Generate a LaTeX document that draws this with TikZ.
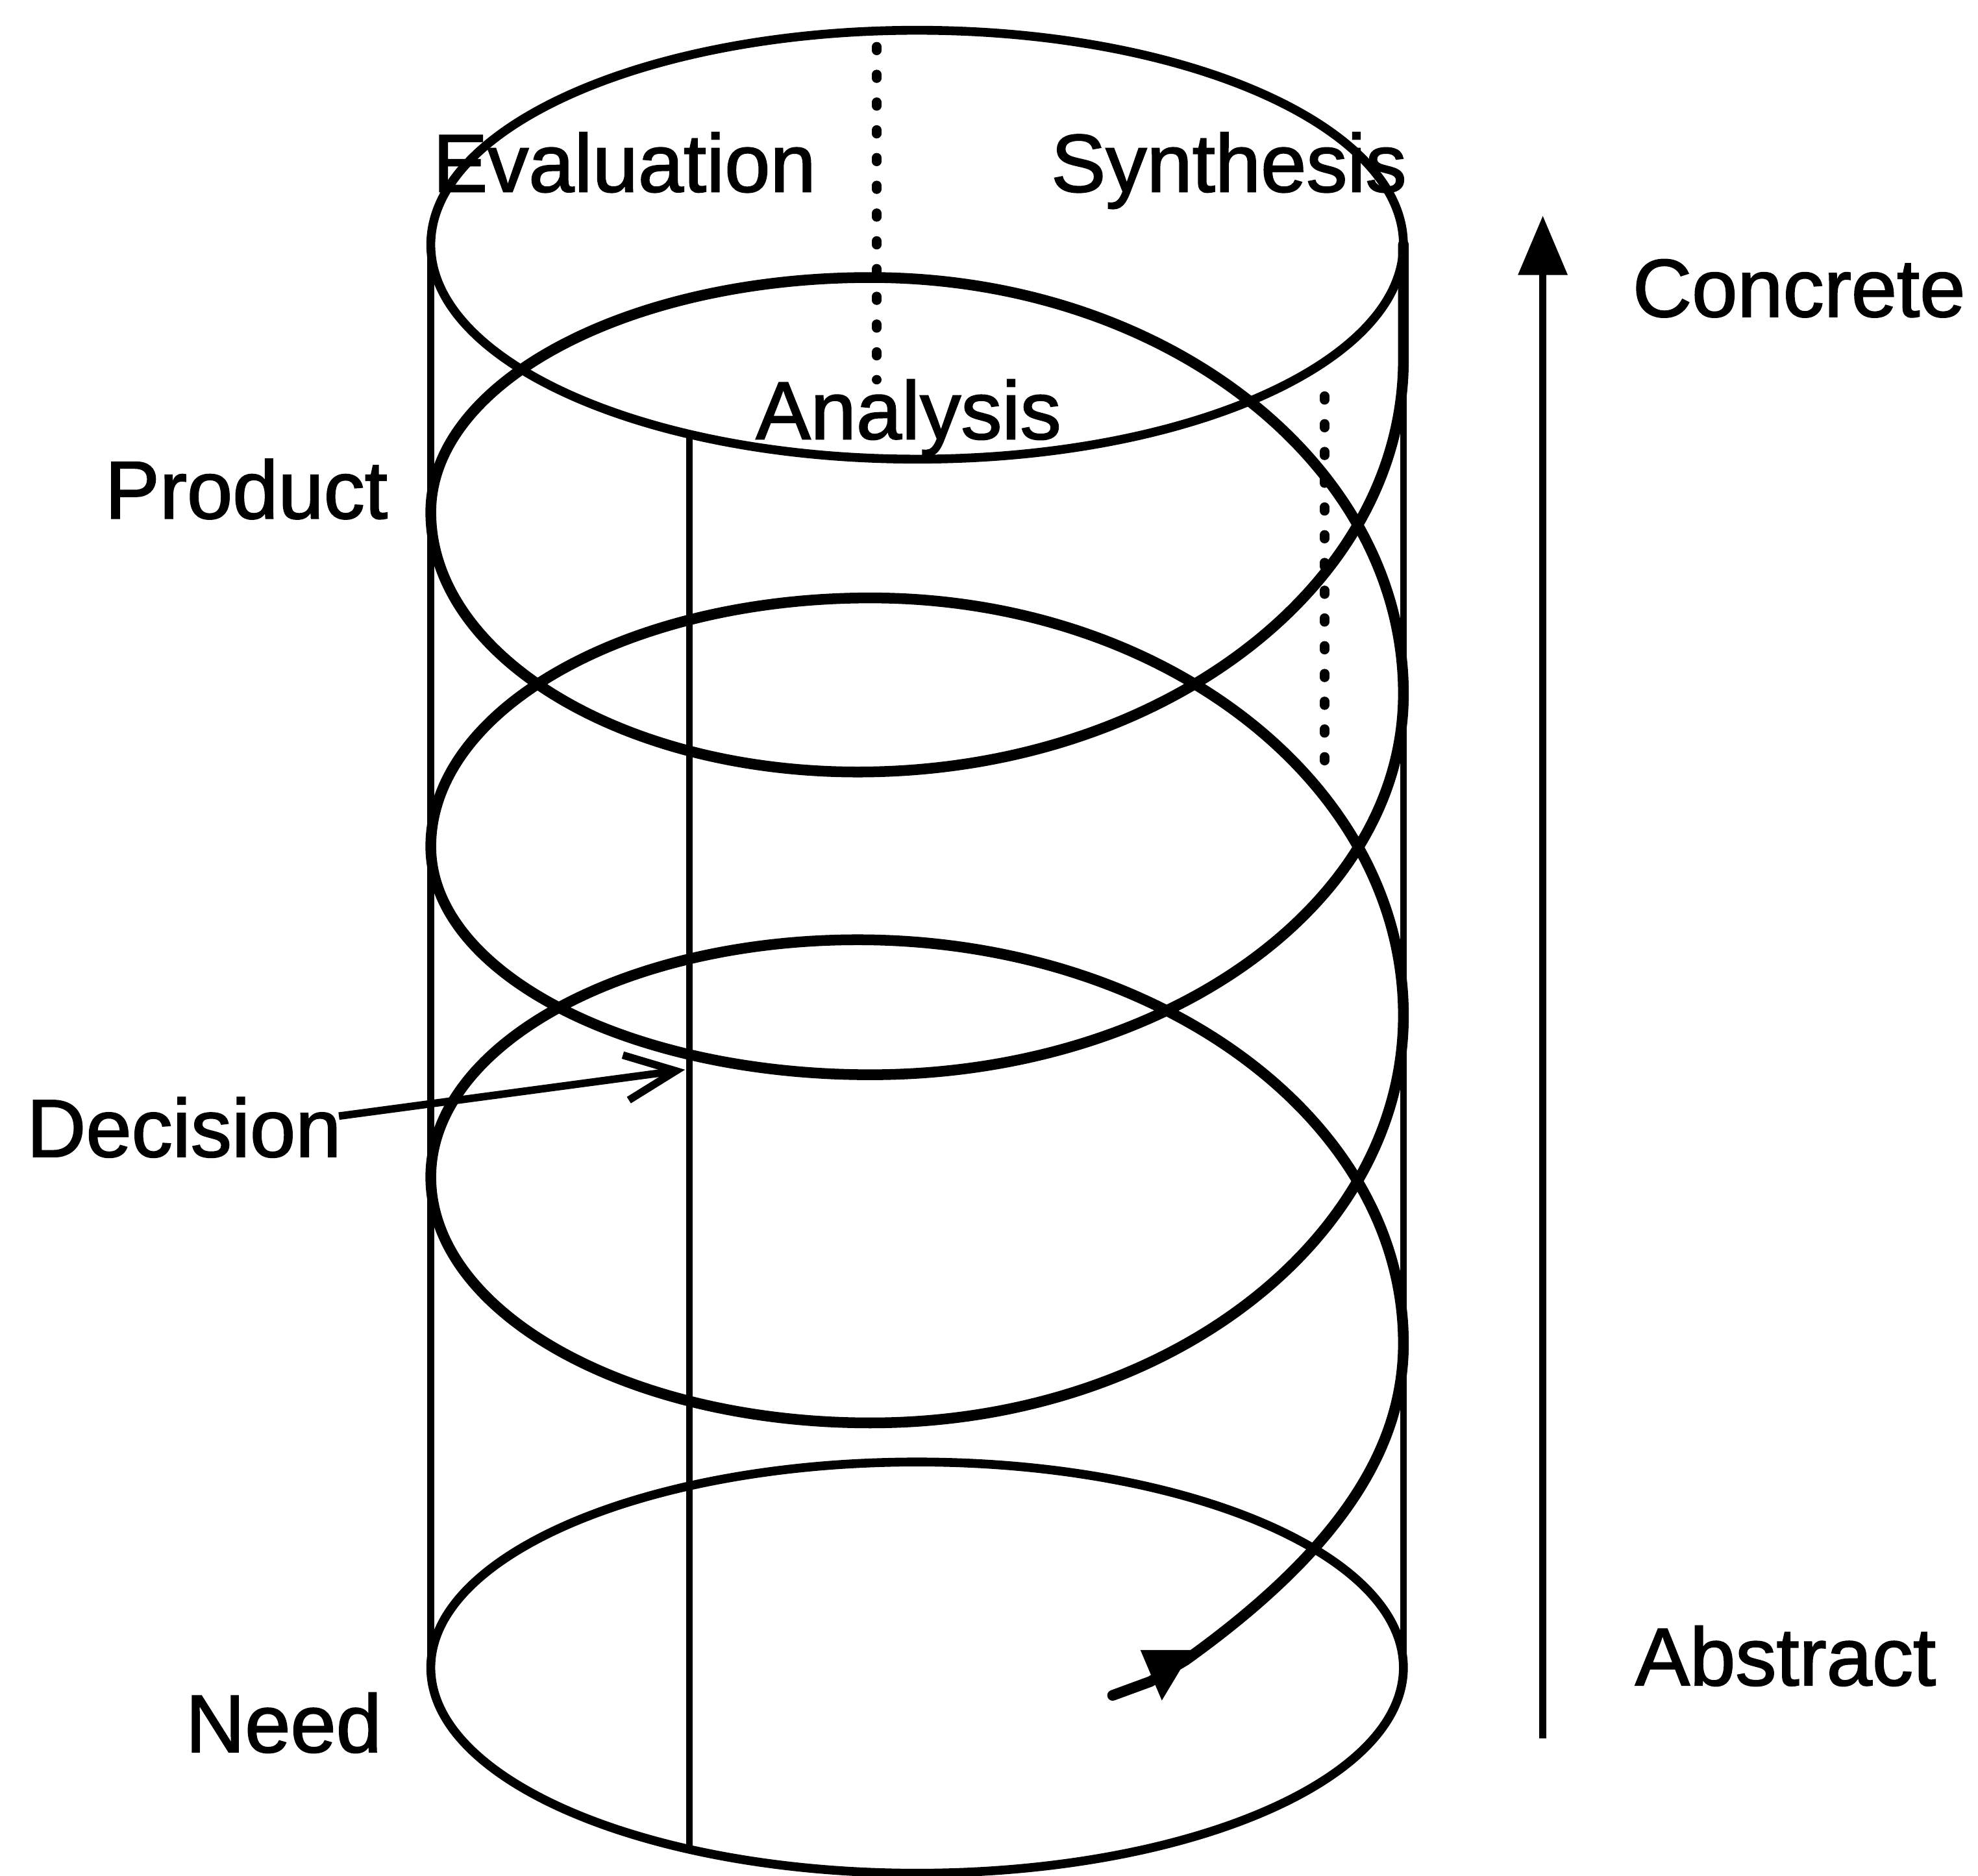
\documentclass[tikz,border=0pt]{standalone}
\usepackage{fontspec}
\setmainfont{Liberation Sans}[FakeBold=1.6]
\usetikzlibrary{arrows.meta}
\begin{document}
\begin{tikzpicture}[x=1pt,y=-1pt,
  spiral/.style={line width=8.5pt, line join=round, line cap=round},
  cyl/.style={line width=5.5pt},
  rim/.style={line width=7pt},
  dots/.style={line width=7.5pt, line cap=round, dash pattern=on 3pt off 19pt},
  lbl/.style={font=\fontsize{65}{78}\selectfont, inner sep=0pt, anchor=base west}]
\useasboundingbox (0,0) rectangle (1568,1487);
% cylinder
\coordinate (topc) at (727,194);
\coordinate (botc) at (727,1322);
\draw[rim] (topc) ellipse [x radius=385.5pt, y radius=170pt];
\draw[rim] (botc) ellipse [x radius=385.5pt, y radius=163pt];
\coordinate (lt) at (341.5,194); \coordinate (lb) at (341.5,1322);
\coordinate (rt) at (1112.5,194); \coordinate (rb) at (1112.5,1322);
\draw[cyl] (lt) -- (lb);
\draw[cyl] (rt) -- (rb);
% decision line
\coordinate (dt) at (546.5,344); \coordinate (db) at (546.5,1466);
\draw[cyl] (dt) -- (db);
% dotted lines
\coordinate (d1a) at (695,37); \coordinate (d1b) at (695,301);
\coordinate (d2a) at (1050,314); \coordinate (d2b) at (1050,609);
\draw[dots] (d1a) -- (d1b);
\draw[dots] (d2a) -- (d2b);
% spiral
\draw[spiral] (1112.5,194) -- (1112.5,285)
 .. controls (1112.5,465.6) and (918.9,612) .. (680,612)
 .. controls (493,612) and (341.5,519.8) .. (341.5,406)
 .. controls (341.5,303.3) and (497.5,220) .. (690,220)
 .. controls (923.3,220) and (1112.5,367.7) .. (1112.5,550)
 .. controls (1112.5,716.8) and (923.3,852) .. (690,852)
 .. controls (497.5,852) and (341.5,771) .. (341.5,671)
 .. controls (341.5,562.2) and (497.5,474) .. (690,474)
 .. controls (923.3,474) and (1112.5,622.2) .. (1112.5,805)
 .. controls (1112.5,983.4) and (923.3,1128) .. (690,1128)
 .. controls (497.5,1128) and (341.5,1040.7) .. (341.5,933)
 .. controls (341.5,829.2) and (493,745) .. (680,745)
 .. controls (918.9,745) and (1112.5,888.3) .. (1112.5,1065)
 .. controls (1112.5,1150) and (1060,1230) .. (940,1316)
 -- (912,1333) -- (882,1344);
\fill (904,1308) -- (945,1308) -- (921,1348) -- cycle;
% labels
\node[lbl] (eval) at (343,152) {Evaluation};
\node[lbl] (synt) at (833,152) {Synthesis};
\node[lbl] (anal) at (599,348) {Analysis};
\node[lbl] (prod) at (83,411) {Product};
\node[lbl] (dec) at (21,917) {Decision};
\node[lbl] (need) at (147,1389) {Need};
\node[lbl] (conc) at (1294,251) {Concrete};
\node[lbl] (abst) at (1296,1336) {Abstract};
% decision arrow
\coordinate (dtip) at (543,848);
\draw[line width=6pt, -{Straight Barb[length=40pt,width=36pt]}] ([xshift=-2pt,yshift=9pt]dec.east) -- (dtip);
% abstract -> concrete arrow
\coordinate (abot) at (1223,1378);
\coordinate (atop) at (1223,171);
\draw[line width=5.5pt, -{Triangle[length=47pt,width=38pt]}] (abot) -- (atop);
\end{tikzpicture}
\end{document}
